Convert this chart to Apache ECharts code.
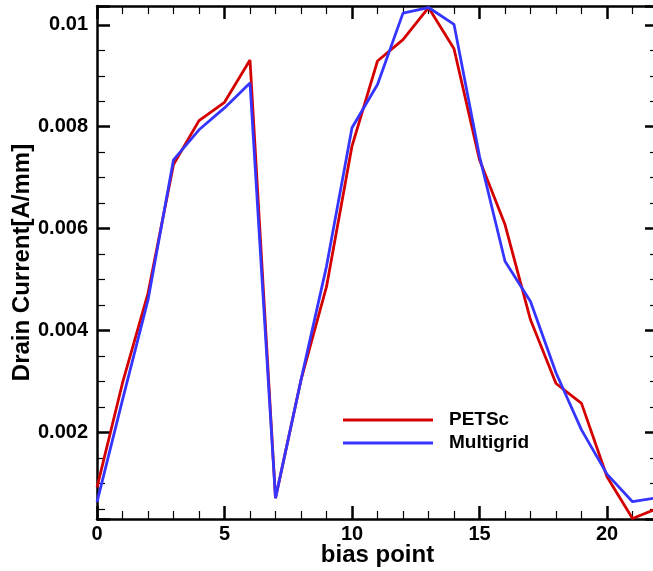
<!DOCTYPE html>
<html>
<head>
<meta charset="utf-8">
<script src="https://cdn.jsdelivr.net/npm/echarts@6/dist/echarts.min.js"></script>
<style>
  html, body { margin: 0; padding: 0; background: #fff; }
  #chart { width: 653px; height: 571px; }
</style>
</head>
<body>
<div id="chart"></div>
<script>
// Drain current per bias point for the two solvers
const biasPoints = [0, 1, 2, 3, 4, 5, 6, 7, 8, 9, 10, 11, 12, 13, 14, 15, 16, 17, 18, 19, 20, 21, 22];
const petsc = [0.00092, 0.00297, 0.00473, 0.00726, 0.00812, 0.00848, 0.00931, 0.00071, 0.00303, 0.00486,
  0.00762, 0.00929, 0.00971, 0.01034, 0.00953, 0.00735, 0.00608, 0.00421, 0.00296, 0.00257,
  0.00113, 0.00031, 0.00051];
const multigrid = [0.00063, 0.00264, 0.00460, 0.00735, 0.00794, 0.00837, 0.00886, 0.00071, 0.00303, 0.00526,
  0.00798, 0.00883, 0.01023, 0.01034, 0.01001, 0.00742, 0.00536, 0.00457, 0.00317, 0.00205,
  0.00118, 0.00064, 0.00072];
const seriesNames = ['PETSc', 'Multigrid'];
const xTitle = 'bias point';
const yTitle = 'Drain Current[A/mm]';

const FONT = "'Liberation Sans', Arial, sans-serif";
const X_MIN = 0, X_MAX = 22;
const Y_MIN = 0.0003, Y_MAX = 0.01037;

const pairs = (ys) => biasPoints.map((x, i) => [x, ys[i]]);

const frameLine = { show: true, lineStyle: { color: '#000', width: 2.5 } };
const majorTick = { show: true, inside: true, length: 13, lineStyle: { color: '#000', width: 2.5 } };
const minorTick = { show: true, splitNumber: 5, length: 8, lineStyle: { color: '#000', width: 1.2 } };
const yMinorTick = Object.assign({}, minorTick, { splitNumber: 4 });

const chart = echarts.init(document.getElementById('chart'), null, { renderer: 'canvas' });

chart.setOption({
  animation: false,
  backgroundColor: '#fff',
  grid: { left: 97, right: -5, top: 6, bottom: 52, containLabel: false, outerBoundsMode: 'none' },
  xAxis: [
    {
      type: 'value', min: X_MIN, max: X_MAX, interval: 5,
      position: 'bottom',
      axisLine: Object.assign({ onZero: false }, frameLine),
      axisTick: majorTick,
      minorTick: minorTick,
      splitLine: { show: false },
      axisLabel: {
        margin: 5, color: '#000', fontFamily: FONT, fontWeight: 'bold', fontSize: 20,
        showMaxLabel: false
      },
      name: xTitle, nameLocation: 'middle', nameGap: 24, nameMoveOverlap: false,
      nameTextStyle: { color: '#000', fontFamily: FONT, fontWeight: 'bold', fontSize: 24, verticalAlign: 'top' }
    },
    {
      type: 'value', min: X_MIN, max: X_MAX, interval: 5,
      position: 'top',
      axisLine: Object.assign({ onZero: false }, frameLine),
      axisTick: majorTick,
      minorTick: minorTick,
      splitLine: { show: false },
      axisLabel: { show: false }
    }
  ],
  yAxis: [
    {
      type: 'value', min: Y_MIN, max: Y_MAX, minInterval: 0.002, maxInterval: 0.002, splitNumber: 5,
      position: 'left',
      axisLine: Object.assign({ onZero: false }, frameLine),
      axisTick: majorTick,
      minorTick: yMinorTick,
      splitLine: { show: false },
      axisLabel: {
        margin: 9, color: '#000', fontFamily: FONT, fontWeight: 'bold', fontSize: 20,
        showMinLabel: false, showMaxLabel: false,
        formatter: (v) => String(+v.toFixed(4))
      },
      name: yTitle, nameLocation: 'middle', nameGap: 63, nameRotate: 90, nameMoveOverlap: false,
      nameTextStyle: { color: '#000', fontFamily: FONT, fontWeight: 'bold', fontSize: 24 }
    },
    {
      type: 'value', min: Y_MIN, max: Y_MAX, minInterval: 0.002, maxInterval: 0.002, splitNumber: 5,
      position: 'right',
      axisLine: Object.assign({ onZero: false }, frameLine),
      axisTick: majorTick,
      minorTick: yMinorTick,
      splitLine: { show: false },
      axisLabel: { show: false }
    }
  ],
  legend: {
    orient: 'vertical',
    left: 338, top: 405,
    icon: 'rect',
    itemWidth: 90, itemHeight: 3,
    itemGap: 3,
    data: seriesNames,
    textStyle: {
      color: '#000', fontFamily: FONT, fontWeight: 'bold', fontSize: 19,
      lineHeight: 20, padding: [0, 0, 0, 11]
    }
  },
  series: [
    {
      name: seriesNames[0], type: 'line', data: pairs(petsc),
      symbol: 'none', clip: true,
      lineStyle: { color: '#d40000', width: 2.8 },
      itemStyle: { color: '#d40000' }
    },
    {
      name: seriesNames[1], type: 'line', data: pairs(multigrid),
      symbol: 'none', clip: true,
      lineStyle: { color: '#3535ff', width: 2.8 },
      itemStyle: { color: '#3535ff' }
    }
  ]
});
</script>
</body>
</html>
